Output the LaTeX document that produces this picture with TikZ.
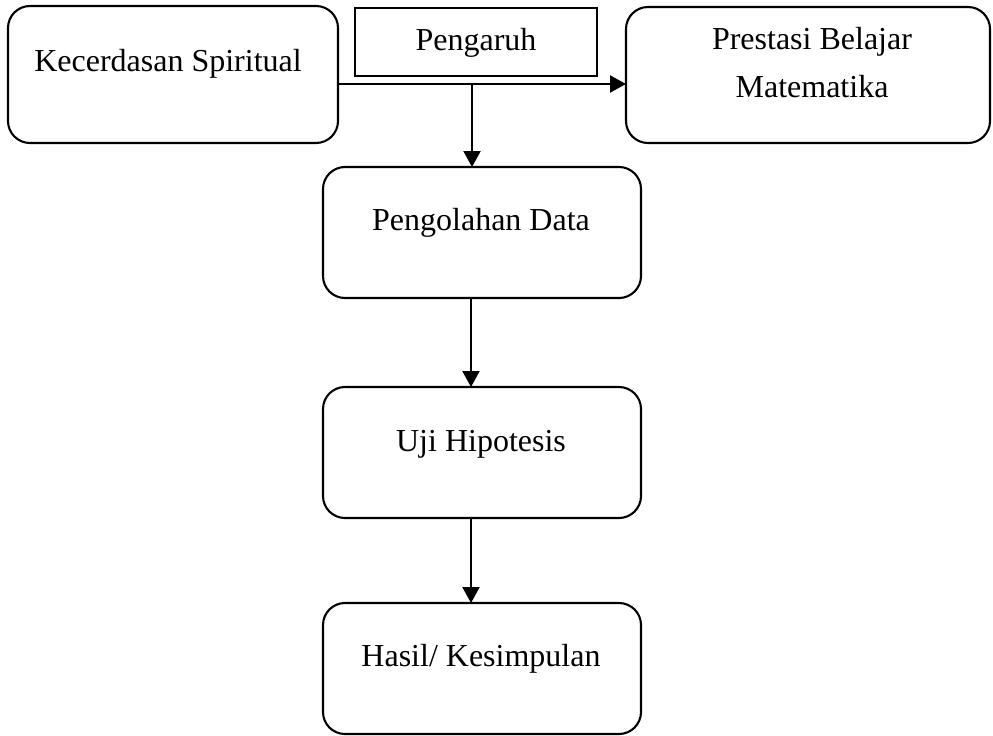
\documentclass[tikz,border=0pt]{standalone}
\usepackage{fontspec}
\setmainfont{Liberation Serif}
\usetikzlibrary{arrows.meta}
\begin{document}
\begin{tikzpicture}[x=1pt,y=-1pt,
  box/.style={draw=black,line width=2.1pt,rounded corners=22pt,minimum width=#1,minimum height=131pt,inner sep=0pt,outer sep=0pt},
  plainbox/.style={draw=black,line width=1.9pt,inner sep=0pt,outer sep=0pt},
  txt/.style={anchor=base,inner sep=0pt,font=\fontsize{32pt}{38pt}\selectfont},
  conn/.style={line width=2.1pt,-{Triangle[width=17pt,length=16pt]}}]
\useasboundingbox (0,0) rectangle (993,736);
\node[box=330pt,minimum height=137pt] (ks) at (173,74.5) {};
\node[plainbox,minimum width=242pt,minimum height=68pt] (pg) at (476,42) {};
\node[box=364pt,minimum height=136pt] (pb) at (808,75) {};
\node[box=318pt] (pd) at (482,232.5) {};
\node[box=318pt] (uh) at (482,452.5) {};
\node[box=318pt] (hk) at (482,668.5) {};
\node[txt] (kst) at (168,71) {Kecerdasan Spiritual};
\node[txt] (pgt) at (476,50) {Pengaruh};
\node[txt] (pbt1) at (812,49) {Prestasi Belajar};
\node[txt] (pbt2) at (812,97) {Matematika};
\node[txt] (pdt) at (481,230) {Pengolahan Data};
\node[txt] (uht) at (481,451) {Uji Hipotesis};
\node[txt] (hkt) at (481,666) {Hasil/ Kesimpulan};
\coordinate (j) at (472,84);
\draw[conn] (ks.east |- j) -- (pb.west |- j);
\draw[conn] (j) -- (j |- pd.north);
\coordinate (a1) at (471,298);
\draw[conn] (pd.south -| a1) -- (uh.north -| a1);
\draw[conn] (uh.south -| a1) -- (hk.north -| a1);
\end{tikzpicture}
\end{document}
